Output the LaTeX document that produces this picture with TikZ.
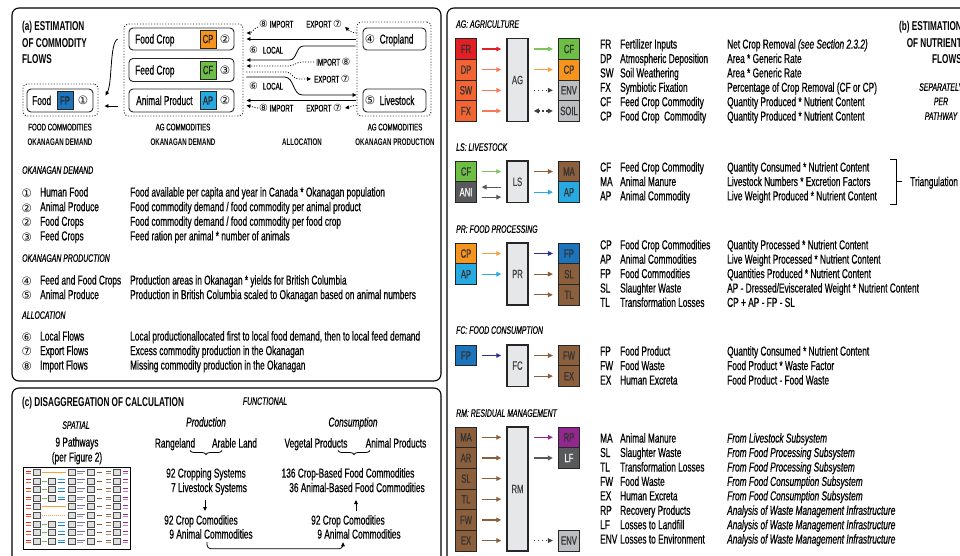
\documentclass[tikz,border=0pt]{standalone}
\usepackage{fontspec}
\setmainfont{Liberation Sans}[FakeStretch=0.64, UprightFeatures={FakeBold=0.45}, ItalicFeatures={FakeBold=0.45}]
\newfontfamily\symf{DejaVu Sans}
\usetikzlibrary{calc,arrows.meta,decorations.pathreplacing}

\definecolor{cFR}{HTML}{E31E25}
\definecolor{cOR}{HTML}{F26532}
\definecolor{cORa}{HTML}{F47B55}
\definecolor{cGR}{HTML}{6CBE45}
\definecolor{cGRa}{HTML}{7DC45A}
\definecolor{cCP}{HTML}{F7941E}
\definecolor{cCPa}{HTML}{F9A040}
\definecolor{cGY}{HTML}{BCBEC0}
\definecolor{cDK}{HTML}{58595B}
\definecolor{cBR}{HTML}{8B5E3C}
\definecolor{cAP}{HTML}{27AAE1}
\definecolor{cFP}{HTML}{1C75BC}
\definecolor{cIN}{HTML}{2E3192}
\definecolor{cPU}{HTML}{92278F}
\definecolor{cBG}{HTML}{E6E7E8}

\newcommand\fbody{\fontsize{13}{15}\selectfont}
\newcommand\fcap{\fontsize{9.6}{11}\selectfont}
\newcommand\fttl{\fontsize{12.8}{15}\selectfont\bfseries}
\newcommand\fsec{\fontsize{10.8}{12}\selectfont\itshape}
\newcommand\fbx{\fontsize{12}{12}\selectfont}
\newcommand\fnum{\symf\fontsize{11.5}{12}\selectfont}
\newcommand\cns[1]{{\symf\fontsize{9.8}{10}\selectfont#1}}

% legend rows of the nutrient panel: abbreviation, name, estimation rule
\newcommand\trow[5]{%
  \node[tx] (#1a) at (600,#2) {#3};
  \node[tx] (#1b) at (620,#2) {#4};
  \node[tx] (#1c) at (727,#2) {#5};}
% rows of the commodity list: number, item, rule
\newcommand\lrow[5]{%
  \node[num, anchor=base west] (#1n) at (21.5,#2+0.8) {#3};
  \node[tx] (#1i) at (40,#2) {#4};
  \node[tx] (#1d) at (130,#2) {#5};}
% tiny subsystem box of the pathway sketch
\newcommand\mbx[2]{\filldraw[fill=black!12, draw=black!70, line width=0.9pt] (#1,#2-3) rectangle ++(7,6);}

\tikzset{
  panel/.style={draw=black, line width=1.1pt, rounded corners=7pt},
  dotbox/.style={draw=black!80, line width=0.9pt, dash pattern=on 1.1pt off 1.7pt, rounded corners=4pt, inner sep=0},
  pill/.style={draw=black!85, line width=0.9pt, rounded corners=4pt, inner sep=0},
  tx/.style={inner sep=0, anchor=base west, font=\fbody},
  txm/.style={inner sep=0, anchor=base, font=\fbody},
  capt/.style={inner sep=0, anchor=base, font=\fcap},
  captb/.style={inner sep=0, anchor=base, font=\fcap\bfseries},
  ttl/.style={inner sep=0, anchor=base west, font=\fttl},
  sec/.style={inner sep=0, anchor=base west, font=\fsec},
  num/.style={inner sep=0, font=\fnum},
  lab/.style={inner sep=0, font=\fcap},
  tagbox/.style={draw=black!85, line width=0.7pt, minimum width=16pt, minimum height=18pt, inner sep=0, font=\fbx, text=black!85},
  cb/.style={draw=black!85, line width=0.7pt, minimum width=20.5pt, minimum height=20.65pt, inner sep=0, font=\fbx, text=black!80},
  cbr/.style={cb, minimum width=21.5pt},
  big/.style={draw=black!85, line width=1.5pt, fill=cBG, minimum width=21pt, inner sep=0, font=\fbx, text=black!75},
  sar/.style={line width=0.8pt, -{Triangle[length=4pt,width=3.6pt]}},
  dar/.style={sar, dash pattern=on 1pt off 1.6pt},
  ar/.style={line width=1.2pt, -{Triangle[length=5pt,width=4.6pt]}},
  dotar/.style={ar, dash pattern=on 1.5pt off 2.5pt},
}

\begin{document}
\begin{tikzpicture}[x=1pt,y=-1pt]
\useasboundingbox (0,0) rectangle (960,555);
\fill[white] (0,0) rectangle (960,555);

% ================= panels
\draw[panel] (12,8) rectangle (441,381);
\draw[panel] (12,388) rectangle (441,600);
\draw[panel] (447,8) rectangle (1000,600);

% ================= (a) commodity flows
\node[ttl] (ta1) at (22,30.3) {(a) ESTIMATION};
\node[ttl] (ta2) at (22,47.3) {OF COMMODITY};
\node[ttl] (ta3) at (22,63.8) {FLOWS};

\node[dotbox, minimum width=75pt, minimum height=32pt] (fdd) at (60.5,100) {};
\node[pill, minimum width=66pt, minimum height=23pt] (food) at (60,100.5) {};
\node[tx] (foodt) at (32,105) {Food};
\node[tagbox, fill=cFP] (foodfp) at (65,100.5) {FP};
\node[num] (foodn) at (83,100.5) {①};

\node[dotbox, minimum width=119pt, minimum height=92pt] (agd) at (183.5,70) {};
\node[pill, minimum width=105pt, minimum height=22pt] (fc) at (181.5,39) {};
\node[tx] (fct) at (135,43.6) {Food Crop};
\node[tagbox, fill=cCP] (fccp) at (208,39) {CP};
\node[num] (fcn) at (225,39) {②};
\node[pill, minimum width=105pt, minimum height=23pt] (fd) at (181.5,70) {};
\node[tx] (fdt) at (135,74.6) {Feed Crop};
\node[tagbox, fill=cGR] (fdcf) at (208,70) {CF};
\node[num] (fdn) at (225,70) {③};
\node[pill, minimum width=105pt, minimum height=23pt] (apn) at (181.5,100.5) {};
\node[tx] (apt) at (136,105) {Animal Product};
\node[tagbox, fill=cAP] (apap) at (208,100.5) {AP};
\node[num] (apnn) at (225,100.5) {②};

\node[dotbox, minimum width=74pt, minimum height=94pt] (prd) at (394,69) {};
\node[pill, minimum width=63pt, minimum height=22pt] (crop) at (394.5,39) {};
\node[num] (cropn) at (370,39) {④};
\node[tx] (cropt) at (379.5,43.6) {Cropland};
\node[pill, minimum width=63pt, minimum height=23pt] (live) at (394.5,100.5) {};
\node[num] (liven) at (370,100.5) {⑤};
\node[tx] (livet) at (379.5,105) {Livestock};

\node[capt] (ca1) at (60,130.4) {FOOD COMMODITIES};
\node[captb] (ca2) at (60,145.4) {OKANAGAN DEMAND};
\node[capt] (ca3) at (183,130.4) {AG COMMODITIES};
\node[captb] (ca4) at (183,145.4) {OKANAGAN DEMAND};
\node[captb] (ca5) at (302,145.4) {ALLOCATION};
\node[capt] (ca6) at (395,130.4) {AG COMMODITIES};
\node[captb] (ca7) at (395,145.4) {OKANAGAN PRODUCTION};

% allocation labels
\node[lab, anchor=west] (im1) at (259,24) {\cns{⑧}\,IMPORT};
\node[lab, anchor=east] (ex1) at (342,24) {EXPORT\,\cns{⑦}};
\node[lab, anchor=west] (lo1) at (249,50) {\cns{⑥}\hspace{5pt}LOCAL};
\node[lab, anchor=west] (im2) at (316,62) {IMPORT\,\cns{⑧}};
\node[lab, anchor=west] (ex2) at (314,79) {EXPORT\,\cns{⑦}};
\node[lab, anchor=west] (lo2) at (249,86) {\cns{⑥}\hspace{5pt}LOCAL};
\node[lab, anchor=west] (im3) at (259,108) {\cns{⑧}\,IMPORT};
\node[lab, anchor=east] (ex3) at (342,108) {EXPORT\,\cns{⑦}};

% allocation flows
\draw[dar] ($(im1.west)+(-1,3)$) to[out=200,in=0] ($(fc.east)+(12,-6)$);
\draw[dar] ($(crop.west)+(-6,-6)$) to[out=180,in=-40] ($(ex1.east)+(3,3)$);
\draw[sar] ($(crop.west)+(-7,0)$) -- ($(fc.east)+(12,0)$);
\draw[sar] ($(crop.west)+(-7,7)$) -- ($(crop.west)+(-59,7)$) to[out=180,in=0] ($(fd.east)+(55,-10)$) -- ($(fd.east)+(12,-10)$);
\draw[dar] ($(im2.west)+(-2,0)$) -- ($(im2.west)+(-14,0)$) to[out=180,in=0] ($(fd.east)+(54,-4)$) -- ($(fd.east)+(12,-4)$);
\draw[dar] ($(fd.east)+(12,2)$) -- ($(fd.east)+(52,2)$) to[out=0,in=180] ($(fd.east)+(64,9)$) -- ($(ex2.west)+(-3,0)$);
\draw[sar] ($(fd.east)+(12,7)$) -- ($(fd.east)+(50,7)$) to[out=0,in=180] ($(fd.east)+(68,25)$) -- ($(live.west)+(-6,-5.5)$);
\draw[sar] ($(live.west)+(-7,0)$) -- ($(apn.east)+(12,0)$);
\draw[dar] ($(im3.west)+(-1,0)$) to[out=170,in=-10] ($(apn.east)+(12,5)$);
\draw[dar] ($(live.west)+(-6,5)$) to[out=180,in=10] ($(ex3.east)+(3,0)$);

% demand chain to food
\draw[sar] ($(fc.west)+(-11,0)$) .. controls +(-8,4) and +(7,-12) .. ($(food.east)+(12,-5)$);
\draw[sar] ($(apn.west)+(-11,5.5)$) -- ($(food.east)+(11,5.5)$);

% commodity list
\node[sec] (h1) at (22,173.8) {OKANAGAN DEMAND};
\lrow{r1}{196.6}{①}{Human Food}{Food available per capita and year in Canada * Okanagan population}
\lrow{r2}{211.2}{②}{Animal Produce}{Food commodity demand / food commodity per animal product}
\lrow{r3}{225.8}{②}{Food Crops}{Food commodity demand / food commodity per food crop}
\lrow{r4}{240.4}{③}{Feed Crops}{Feed ration per animal * number of animals}
\node[sec] (h2) at (22,261.8) {OKANAGAN PRODUCTION};
\lrow{r5}{284.6}{④}{Feed and Food Crops}{Production areas in Okanagan * yields for British Columbia}
\lrow{r6}{299.1}{⑤}{Animal Produce}{Production in British Columbia scaled to Okanagan based on animal numbers}
\node[sec] (h3) at (22,318.8) {ALLOCATION};
\lrow{r7}{340.6}{⑥}{Local Flows}{Local productionallocated first to local food demand, then to local feed demand}
\lrow{r8}{355.1}{⑦}{Export Flows}{Excess commodity production in the Okanagan}
\lrow{r9}{369.6}{⑧}{Import Flows}{Missing commodity production in the Okanagan}

% ================= (c) disaggregation
\node[ttl] (tc) at (22,406.5) {(c) DISAGGREGATION OF CALCULATION};
\node[sec, anchor=base] (csp) at (76,428.8) {SPATIAL};
\node[txm] (csp1) at (77,446.6) {9 Pathways};
\node[txm] (csp2) at (77,461.6) {(per Figure 2)};

% pathway sketch
\draw[line width=0.9pt] (23,467) rectangle (130,549);
\foreach \i in {0,...,8} {
  \pgfmathsetmacro\yy{472.5+8.6*\i}
  \draw[cFR, line width=0.9pt] (25.5,\yy-1.3) -- (30.5,\yy-1.3);
  \draw[cOR, line width=0.9pt] (25.5,\yy+1.3) -- (30.5,\yy+1.3);
  \mbx{33}{\yy}
  \mbx{68}{\yy}
  \draw[cIN!70, line width=0.8pt] (77,\yy-1.3) -- (85,\yy-1.3);
  \draw[black!40, line width=0.8pt] (77,\yy+1.3) -- (83,\yy+1.3);
  \mbx{87.5}{\yy}
  \draw[cBR, line width=0.9pt] (97,\yy) -- (102,\yy);
  \draw[cBR, line width=0.9pt] (106,\yy-1.3) -- (111,\yy-1.3);
  \draw[cBR!70, line width=0.9pt] (106,\yy+1.3) -- (111,\yy+1.3);
  \mbx{113}{\yy}
  \draw[cPU, line width=0.9pt] (122.5,\yy-1.3) -- (127.5,\yy-1.3);
  \draw[cPU!60, line width=0.9pt] (122.5,\yy+1.3) -- (127.5,\yy+1.3);
}
\foreach \i in {0,4} {
  \pgfmathsetmacro\yy{472.5+8.6*\i}
  \draw[cCPa, line width=1pt] (42,\yy) -- (66,\yy);
}
\foreach \i in {5} {
  \pgfmathsetmacro\yy{472.5+8.6*\i}
  \draw[cCPa, line width=1pt, dash pattern=on 1pt off 1pt] (42,\yy) -- (66,\yy);
}
\foreach \i in {1,2,3,6,7,8} {
  \pgfmathsetmacro\yy{472.5+8.6*\i}
  \draw[cGR, line width=1pt] (42,\yy) -- (46.5,\yy);
  \mbx{48.5}{\yy}
  \draw[cAP, line width=0.8pt] (57.5,\yy-1.3) -- (65,\yy-1.3);
  \draw[cFP, line width=0.8pt] (57.5,\yy+1.3) -- (65,\yy+1.3);
}

\node[sec, anchor=base] (cfu) at (265,404.8) {FUNCTIONAL};
\node[txm, font=\fbody\itshape] (cpr) at (206,426.6) {Production};
\node[txm] (crl) at (175,447.6) {Rangeland};
\node[txm] (cal) at (234.5,447.6) {Arable Land};
\coordinate (bpa) at (190,450.5);
\coordinate (bpb) at (222,450.5);
\draw[line width=0.8pt, decorate, decoration={brace, amplitude=4pt, mirror}] (bpa) -- (bpb);
\node[txm] (ccs) at (206,477.6) {92 Cropping Systems};
\node[txm] (cls) at (209,492.1) {7 Livestock Systems};
\coordinate (dpa) at (205,500);
\coordinate (dpb) at (205,511);
\draw[sar] (dpa) -- (dpb);
\node[txm] (cpc) at (201,524.6) {92 Crop Comodities};
\node[txm] (cpa) at (211,538.6) {9 Animal Commodities};

\node[txm, font=\fbody\itshape] (ccn) at (353,426.6) {Consumption};
\node[txm] (cvp) at (316,447.6) {Vegetal Products};
\node[txm] (cap) at (396,447.6) {Animal Products};
\coordinate (bca) at (338,450.5);
\coordinate (bcb) at (370,450.5);
\draw[line width=0.8pt, decorate, decoration={brace, amplitude=4pt, mirror}] (bca) -- (bcb);
\node[txm] (ccb) at (348,477.6) {136 Crop-Based Food Commodities};
\node[txm] (cab) at (357,492.1) {36 Animal-Based Food Commodities};
\coordinate (dca) at (356,511);
\coordinate (dcb) at (356,500);
\draw[sar] (dca) -- (dcb);
\node[txm] (ccc) at (348,524.6) {92 Crop Comodities};
\node[txm] (cac) at (359,538.6) {9 Animal Commodities};
\coordinate (lka) at (207,541.8);
\coordinate (lkb) at (343,542.3);
\draw[sar, rounded corners=4pt] (lka) -- (lka |- 0,548.8) -- (lkb |- 0,548.8) -- (lkb);

% ================= (b) nutrient flows
\node[ttl, anchor=base east] (tb1) at (962,30.3) {(b) ESTIMATION};
\node[ttl, anchor=base east] (tb2) at (962,47.3) {OF NUTRIENT};
\node[ttl, anchor=base east] (tb3) at (962,63.8) {FLOWS};
\node[sec, anchor=base] (tb4) at (941,90.8) {SEPARATELY};
\node[sec, anchor=base] (tb5) at (941,105.1) {PER};
\node[sec, anchor=base] (tb6) at (941,119.8) {PATHWAY};

% --- AG
\node[sec] (tAG) at (456,27.8) {AG: AGRICULTURE};
\node[cb, fill=cFR] (aFR) at (466,49) {FR};
\node[cb, fill=cOR] (aDP) at (466,69.65) {DP};
\node[cb, fill=cOR] (aSW) at (466,90.3) {SW};
\node[cb, fill=cOR] (aFX) at (466,110.95) {FX};
\node[big, minimum height=82.6pt] (AG) at (517.5,80) {AG};
\node[cbr, fill=cGR] (aCF) at (569,49) {CF};
\node[cbr, fill=cCP] (aCP) at (569,69.65) {CP};
\node[cbr, fill=cGY] (aENV) at (569,90.3) {ENV};
\node[cbr, fill=cGY] (aSOIL) at (569,110.95) {SOIL};
\draw[ar, cFR] ($(aFR.east)+(5,0)$) -- ($(aFR.east -| AG.west)+(-5,0)$);
\draw[ar, cORa] ($(aDP.east)+(5,0)$) -- ($(aDP.east -| AG.west)+(-5,0)$);
\draw[ar, cORa] ($(aSW.east)+(5,0)$) -- ($(aSW.east -| AG.west)+(-5,0)$);
\draw[ar, cORa] ($(aFX.east)+(5,0)$) -- ($(aFX.east -| AG.west)+(-5,0)$);
\draw[ar, cGRa] ($(aCF.west -| AG.east)+(5,0)$) -- ($(aCF.west)+(-5,0)$);
\draw[ar, cCPa] ($(aCP.west -| AG.east)+(5,0)$) -- ($(aCP.west)+(-5,0)$);
\draw[dotar, black!75] ($(aENV.west -| AG.east)+(5,0)$) -- ($(aENV.west)+(-5,0)$);
\draw[dotar, black!75, {Triangle[length=5pt,width=4.6pt]}-{Triangle[length=5pt,width=4.6pt]}] ($(aSOIL.west -| AG.east)+(5,0)$) -- ($(aSOIL.west)+(-5,0)$);
\trow{ag1}{48.6}{FR}{Fertilizer Inputs}{Net Crop Removal \textit{(see Section 2.3.2)}}
\trow{ag2}{63.0}{DP}{Atmospheric Deposition}{Area * Generic Rate}
\trow{ag3}{77.4}{SW}{Soil Weathering}{Area * Generic Rate}
\trow{ag4}{91.8}{FX}{Symbiotic Fixation}{Percentage of Crop Removal (CF or CP)}
\trow{ag5}{106.2}{CF}{Feed Crop Commodity}{Quantity Produced * Nutrient Content}
\trow{ag6}{120.6}{CP}{Food Crop\ \ Commodity}{Quantity Produced * Nutrient Content}

% --- LS
\node[sec] (tLS) at (456,150.8) {LS: LIVESTOCK};
\node[cb, fill=cGR] (lCF) at (466,171.5) {CF};
\node[cb, fill=cDK, text=white!75] (lANI) at (466,192.15) {ANI};
\node[big, minimum height=41.3pt] (LS) at (517.5,181.8) {LS};
\node[cbr, fill=cBR] (lMA) at (569,171.5) {MA};
\node[cbr, fill=cAP] (lAP) at (569,192.15) {AP};
\draw[ar, cGRa] ($(lCF.east)+(5,0)$) -- ($(lCF.east -| LS.west)+(-5,0)$);
\draw[ar, cDK] ($(lANI.east -| LS.west)+(-5,-5)$) -- ($(lANI.east)+(5,-5)$);
\draw[ar, cDK] ($(lANI.east)+(5,5)$) -- ($(lANI.east -| LS.west)+(-5,5)$);
\draw[ar, cBR] ($(lMA.west -| LS.east)+(5,0)$) -- ($(lMA.west)+(-5,0)$);
\draw[ar, cAP] ($(lAP.west -| LS.east)+(5,0)$) -- ($(lAP.west)+(-5,0)$);
\trow{ls1}{171.6}{CF}{Feed Crop Commodity}{Quantity Consumed * Nutrient Content}
\trow{ls2}{186.0}{MA}{Animal Manure}{Livestock Numbers * Excretion Factors}
\trow{ls3}{200.4}{AP}{Animal Commodity}{Live Weight Produced * Nutrient Content}
\coordinate (bra) at (890,159);
\coordinate (brb) at (890,204);
\draw[line width=1pt] (bra) -- ++(6,0) -- ($(brb)+(6,0)$) -- (brb);
\node[tx] (tri) at (910,186.1) {Triangulation};
\draw[line width=1pt] ($(bra)!0.5!(brb)+(6,0)$) -- ($(tri.base west)+(-8,-4.6)$);

% --- PR
\node[sec] (tPR) at (456,232.8) {PR: FOOD PROCESSING};
\node[cb, fill=cCP] (pCP) at (466,253.5) {CP};
\node[cb, fill=cAP] (pAP) at (466,274.15) {AP};
\node[big, minimum height=62pt] (PR) at (517.5,274) {PR};
\node[cbr, fill=cFP] (pFP) at (569,253.5) {FP};
\node[cbr, fill=cBR] (pSL) at (569,274.15) {SL};
\node[cbr, fill=cBR] (pTL) at (569,294.8) {TL};
\draw[ar, cCPa] ($(pCP.east)+(5,0)$) -- ($(pCP.east -| PR.west)+(-5,0)$);
\draw[ar, cAP] ($(pAP.east)+(5,0)$) -- ($(pAP.east -| PR.west)+(-5,0)$);
\draw[ar, cIN] ($(pFP.west -| PR.east)+(5,0)$) -- ($(pFP.west)+(-5,0)$);
\draw[ar, cBR] ($(pSL.west -| PR.east)+(5,0)$) -- ($(pSL.west)+(-5,0)$);
\draw[ar, cBR] ($(pTL.west -| PR.east)+(5,0)$) -- ($(pTL.west)+(-5,0)$);
\trow{pr1}{249.3}{CP}{Food Crop Commodities}{Quantity Processed * Nutrient Content}
\trow{pr2}{263.7}{AP}{Animal Commodities}{Live Weight Processed * Nutrient Content}
\trow{pr3}{278.1}{FP}{Food Commodities}{Quantities Produced * Nutrient Content}
\trow{pr4}{292.5}{SL}{Slaughter Waste}{AP - Dressed/Eviscerated Weight * Nutrient Content}
\trow{pr5}{306.9}{TL}{Transformation Losses}{CP + AP - FP - SL}

% --- FC
\node[sec] (tFC) at (456,333.8) {FC: FOOD CONSUMPTION};
\node[cb, fill=cFP] (fFP) at (466,355.5) {FP};
\node[big, minimum height=41.3pt] (FC) at (517.5,365.6) {FC};
\node[cbr, fill=cBR] (fFW) at (569,355.5) {FW};
\node[cbr, fill=cBR] (fEX) at (569,376.15) {EX};
\draw[ar, cIN] ($(fFP.east)+(5,0)$) -- ($(fFP.east -| FC.west)+(-5,0)$);
\draw[ar, cBR] ($(fFW.west -| FC.east)+(5,0)$) -- ($(fFW.west)+(-5,0)$);
\draw[ar, cBR] ($(fEX.west -| FC.east)+(5,0)$) -- ($(fEX.west)+(-5,0)$);
\trow{fc1}{355.6}{FP}{Food Product}{Quantity Consumed * Nutrient Content}
\trow{fc2}{370.1}{FW}{Food Waste}{Food Product * Waste Factor}
\trow{fc3}{384.6}{EX}{Human Excreta}{Food Product - Food Waste}

% --- RM
\node[sec] (tRM) at (456,416.8) {RM: RESIDUAL MANAGEMENT};
\foreach \nm/\lb [count=\k from 0] in {rMA/MA,rAR/AR,rSL/SL,rTL/TL,rFW/FW,rEX/EX} {
  \node[cb, fill=cBR] (\nm) at (466,437.3+20.65*\k) {\lb};
}
\node[big, minimum height=124pt] (RM) at (517.5,489) {RM};
\foreach \nm in {rMA,rAR,rSL,rTL,rFW,rEX} {
  \draw[ar, cBR] ($(\nm.east)+(5,0)$) -- ($(\nm.east -| RM.west)+(-5,0)$);
}
\node[cbr, fill=cPU] (rRP) at (569,437.3) {RP};
\node[cbr, fill=cDK, text=white!75] (rLF) at (569,457.95) {LF};
\node[cbr, fill=cGY] (rENV) at (569,540.55) {ENV};
\draw[ar, cPU] ($(rRP.west -| RM.east)+(5,0)$) -- ($(rRP.west)+(-5,0)$);
\draw[ar, cDK] ($(rLF.west -| RM.east)+(5,0)$) -- ($(rLF.west)+(-5,0)$);
\draw[dotar, black!75] ($(rENV.west -| RM.east)+(5,0)$) -- ($(rENV.west)+(-5,0)$);
\trow{rm1}{442.6}{MA}{Animal Manure}{\textit{From Livestock Subsystem}}
\trow{rm2}{457.0}{SL}{Slaughter Waste}{\textit{From Food Processing Subsystem}}
\trow{rm3}{471.5}{TL}{Transformation Losses}{\textit{From Food Processing Subsystem}}
\trow{rm4}{485.9}{FW}{Food Waste}{\textit{From Food Consumption Subsystem}}
\trow{rm5}{500.3}{EX}{Human Excreta}{\textit{From Food Consumption Subsystem}}
\trow{rm6}{514.8}{RP}{Recovery Products}{\textit{Analysis of Waste Management Infrastructure}}
\trow{rm7}{529.2}{LF}{Losses to Landfill}{\textit{Analysis of Waste Management Infrastructure}}
\trow{rm8}{543.6}{ENV}{Losses to Environment}{\textit{Analysis of Waste Management Infrastructure}}
\end{tikzpicture}
\end{document}
